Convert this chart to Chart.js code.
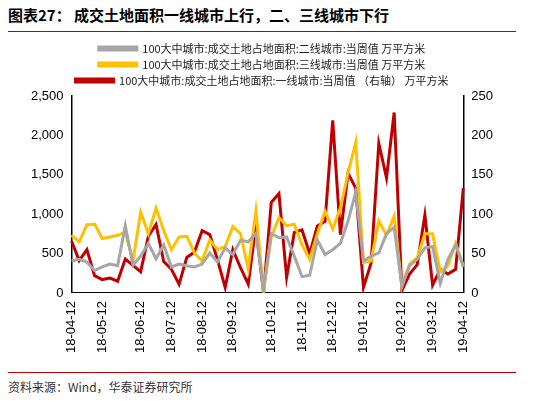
<!DOCTYPE html>
<html>
<head>
<meta charset="utf-8">
<script src="https://cdn.jsdelivr.net/npm/chart.js@4"></script>
<style>
  body { margin:0; width:534px; height:413px; background:#fff; font-family:"Noto Sans CJK SC", sans-serif; }
  #titulo { position:absolute; left:8px; top:4px; font-size:15px; font-weight:bold; color:#000; }
  #lineaTop { position:absolute; left:8px; top:31px; width:508px; border-top:1px solid #c00000; }
  #lineaBot { position:absolute; left:8px; top:372px; width:508px; border-top:1px solid #c00000; }
  #fuente { position:absolute; left:8px; top:378px; font-size:12px; color:#333; }
  #caja { position:absolute; left:0; top:38px; width:534px; height:332px; }
</style>
</head>
<body>
<div id="titulo">图表27： 成交土地面积一线城市上行，二、三线城市下行</div>
<div id="lineaTop"></div>
<div id="caja"><canvas id="grafico"></canvas></div>
<div id="lineaBot"></div>
<div id="fuente">资料来源：Wind，华泰证券研究所</div>
<script>
// datos semanales
var tickLabels = ["18-04-12","18-05-12","18-06-12","18-07-12","18-08-12","18-09-12","18-10-12","18-11-12","18-12-12","19-01-12","19-02-12","19-03-12","19-04-12"];
var erXian = [406,427,394,285,330,366,346,854,354,467,630,435,610,330,366,346,330,366,508,394,573,488,671,650,756,50,756,700,711,467,207,224,671,488,549,630,915,1281,406,467,508,752,833,85,346,427,573,590,122,427,610,330];
var sanXian = [732,650,866,874,692,711,732,773,406,1028,752,1077,793,549,711,720,508,406,671,549,590,842,752,305,1045,30,711,955,854,874,610,427,752,1037,813,1077,1525,1912,387,406,915,732,976,85,366,448,752,752,265,346,630,346];
var yiXian = [66,41,55,22,17,19,15,43,35,27,72,87,40,30,11,45,52,79,74,42,7,55,32,11,85,0,115,126,20,77,80,50,85,91,219,74,152,133,7,38,190,146,229,3,24,36,99,10,30,24,30,133];

var n = yiXian.length;
var etiquetas = [];
for (let i = 0; i < n; i++) etiquetas.push("");
// se ubican las etiquetas mensuales
for (let k = 0; k < tickLabels.length; k++) {
  etiquetas[Math.round(k * (n - 1) / (tickLabels.length - 1))] = tickLabels[k];
}

var fuente = { family: "Liberation Sans, Arial", size: 13 };
var ctx = document.getElementById("grafico").getContext("2d");
var grafico = new Chart(ctx, {
  type: "line",
  data: {
    labels: etiquetas,
    datasets: [
      { label: "100大中城市:成交土地占地面积:二线城市:当周值 万平方米", data: erXian, borderColor: "#a6a6a6", yAxisID: "y", borderWidth: 3, pointRadius: 0, tension: 0 },
      { label: "100大中城市:成交土地占地面积:三线城市:当周值 万平方米", data: sanXian, borderColor: "#ffc000", yAxisID: "y", borderWidth: 3, pointRadius: 0, tension: 0 },
      { label: "100大中城市:成交土地占地面积:一线城市:当周值 （右轴） 万平方米", data: yiXian, borderColor: "#c00000", yAxisID: "y1", borderWidth: 3, pointRadius: 0, tension: 0 }
    ]
  },
  options: {
    responsive: true,
    maintainAspectRatio: false,
    animation: false,
    layout: { padding: { left: 28, right: 38, top: 0, bottom: 14 } },
    plugins: {
      legend: {
        position: "top",
        labels: { boxWidth: 38, boxHeight: 3, padding: 5, color: "#222", font: { family: "Noto Sans CJK SC", size: 11 } }
      },
      tooltip: { enabled: false }
    },
    scales: {
      x: {
        grid: { display: false, drawTicks: true, tickLength: 5 },
        border: { color: "#000" },
        ticks: {
          autoSkip: false, maxRotation: 90, minRotation: 90, color: "#000", font: fuente,
          callback: function(v, i) { return etiquetas[i]; }
        }
      },
      y: {
        position: "left", min: 0, max: 2500,
        grid: { display: false, tickLength: 5 },
        border: { color: "#000", width: 1.5 },
        ticks: { stepSize: 500, color: "#000", font: fuente }
      },
      y1: {
        position: "right", min: 0, max: 250,
        grid: { display: false, tickLength: 5 },
        border: { color: "#000", width: 1.5 },
        ticks: { stepSize: 50, color: "#000", font: fuente }
      }
    }
  }
});
</script>
</body>
</html>
